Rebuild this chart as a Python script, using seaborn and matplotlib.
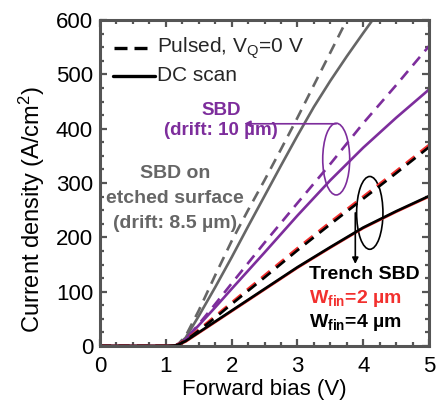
import matplotlib
matplotlib.use("Agg")
import matplotlib.pyplot as plt
from matplotlib.patches import Ellipse
import seaborn as sns
import pandas as pd

# ---- data ----
v_gray_pulsed = [0.0, 1.0, 1.15, 1.2, 1.3, 1.5, 1.75, 2.0, 2.25, 2.5, 2.75, 3.0, 3.25, 3.5, 3.75, 4.0]
j_gray_pulsed = [0, 0, 1, 5, 18, 65, 130, 193, 250, 305, 362, 420, 480, 540, 600, 660]

v_gray_dc = [0.0, 1.0, 1.15, 1.2, 1.3, 1.5, 1.75, 2.0, 2.25, 2.5, 2.75, 3.0, 3.25, 3.5, 3.75, 4.0, 4.25, 4.5]
j_gray_dc = [0, 0, 1, 4, 15, 55, 108, 163, 220, 276, 332, 387, 440, 488, 533, 576, 618, 655]

v_purple = [0.0, 1.0, 1.15, 1.2, 1.3, 1.5, 1.75, 2.0, 2.5, 3.0, 3.5, 4.0, 4.5, 5.0]
j_purple_pulsed = [0, 0, 1, 4, 12, 40, 77, 115, 190, 263, 335, 410, 480, 552]
j_purple_dc = [0, 0, 1, 4, 12, 38, 71, 105, 172, 240, 305, 365, 420, 472]

v_trench = [0.0, 1.0, 1.15, 1.2, 1.3, 1.5, 1.75, 2.0, 2.5, 3.0, 3.5, 4.0, 4.5, 5.0]
j_w2_pulsed = [0, 0, 1, 4, 11, 30, 55, 80, 130, 180, 228, 275, 322, 370]
j_w4_pulsed = [0, 0, 1, 3, 10, 28, 52, 77, 126, 176, 224, 271, 318, 366]
j_w2_dc = [0, 0, 1, 3, 8, 24, 44, 64, 104, 144, 181, 217, 247, 275]
j_w4_dc = [0, 0, 1, 3, 9, 25, 45, 65, 105, 145, 182, 218, 248, 276]

x_ticks = [0, 1, 2, 3, 4, 5]
y_ticks = [0, 100, 200, 300, 400, 500, 600]

GRAY = "#666666"
PURPLE = "#7D2D9C"
RED = "#F2302E"
BLACK = "#000000"

sns.set_theme(style="ticks")
plt.rcParams["font.family"] = ["Liberation Sans", "DejaVu Sans"]
plt.rcParams["mathtext.fontset"] = "custom"
plt.rcParams["mathtext.rm"] = "Liberation Sans"
plt.rcParams["mathtext.it"] = "Liberation Sans:italic"
plt.rcParams["mathtext.bf"] = "Liberation Sans:bold"

fig = plt.figure(figsize=(4.48, 4.04), dpi=100)
ax = fig.add_axes([100 / 448, 58 / 404, 329 / 448, 326 / 404])

LW = 1.9
DASH = (0, (4.2, 2.8))

def draw(x, y, color, ls):
    df = pd.DataFrame({"V": x, "J": y})
    sns.lineplot(data=df, x="V", y="J", ax=ax, color=color, linewidth=LW,
                 linestyle=ls, sort=True, estimator=None, legend=False)

draw(v_gray_pulsed, j_gray_pulsed, GRAY, DASH)
draw(v_gray_dc, j_gray_dc, GRAY, "-")
draw(v_purple, j_purple_pulsed, PURPLE, DASH)
draw(v_purple, j_purple_dc, PURPLE, "-")
draw(v_trench, j_w2_pulsed, RED, DASH)
draw(v_trench, j_w4_pulsed, BLACK, DASH)
draw(v_trench, j_w2_dc, RED, "-")
draw(v_trench, j_w4_dc, BLACK, "-")

ax.set_xlim(0, 5)
ax.set_ylim(0, 600)
ax.set_xticks(x_ticks)
ax.set_yticks(y_ticks)
ax.set_xticklabels([str(t) for t in x_ticks])
ax.set_yticklabels([str(t) for t in y_ticks])
ax.xaxis.set_minor_locator(matplotlib.ticker.MultipleLocator(0.25))
ax.yaxis.set_minor_locator(matplotlib.ticker.MultipleLocator(25))
ax.tick_params(which="both", direction="in", top=True, right=True,
               color="#555555", width=1.6, labelcolor="black")
ax.tick_params(which="major", length=5, labelsize=16)
ax.tick_params(axis="x", which="major", pad=7)
ax.tick_params(axis="y", which="major", pad=5)
ax.tick_params(which="minor", length=3)
for s in ax.spines.values():
    s.set_color("#555555")
    s.set_linewidth(2.2)
    s.set_visible(True)

ax.set_xlabel("Forward bias (V)", fontsize=16, color="black")
ax.set_ylabel("Current density (A/cm$^{2}$)", fontsize=17, color="black")
ax.xaxis.set_label_coords(0.5, -0.1)
ax.yaxis.set_label_coords(-0.16, 0.42)

# legend drawn manually
ax.plot([0.22, 0.72], [548, 548], color=BLACK, lw=2.4, linestyle=(0, (3.9, 2.1)))
ax.plot([0.2, 0.84], [497, 497], color=BLACK, lw=2.4)
ax.text(0.86, 548, r"Pulsed, V$_\mathregular{Q}$=0 V", fontsize=15, va="center", ha="left")
ax.text(0.86, 497, "DC scan", fontsize=15, va="center", ha="left")

# annotations
ax.text(1.84, 434, "SBD", color=PURPLE, fontsize=13.5, fontweight="bold",
        ha="center", va="center")
ax.text(1.84, 397, "(drift: 10 µm)", color=PURPLE, fontsize=13.5, fontweight="bold",
        ha="center", va="center")
ax.text(1.14, 318, "SBD on", color=GRAY, fontsize=14, fontweight="bold",
        ha="center", va="center")
ax.text(1.14, 272, "etched surface", color=GRAY, fontsize=14, fontweight="bold",
        ha="center", va="center")
ax.text(1.14, 226, "(drift: 8.5 µm)", color=GRAY, fontsize=14, fontweight="bold",
        ha="center", va="center")
ax.text(3.17, 132, "Trench SBD", color=BLACK, fontsize=14, fontweight="bold",
        ha="left", va="center")
ax.text(3.17, 88, r"W$_\mathbf{fin}$=2 µm", color=RED, fontsize=14,
        fontweight="bold", ha="left", va="center")
ax.text(3.17, 44, r"W$_\mathbf{fin}$=4 µm", color=BLACK, fontsize=14,
        fontweight="bold", ha="left", va="center")

ax.add_patch(Ellipse((3.59, 344), 0.41, 132, fill=False, edgecolor=PURPLE, lw=1.2))
ax.annotate("", xy=(2.19, 409), xytext=(3.59, 409),
            arrowprops=dict(arrowstyle="-|>", color=PURPLE, lw=1.2,
                            mutation_scale=9, shrinkA=0, shrinkB=0))
ax.add_patch(Ellipse((4.10, 245), 0.40, 134, fill=False, edgecolor=BLACK, lw=1.2))
ax.annotate("", xy=(3.88, 151), xytext=(3.88, 245),
            arrowprops=dict(arrowstyle="-|>", color=BLACK, lw=1.2,
                            mutation_scale=9, shrinkA=0, shrinkB=0))

fig.savefig("out.png", dpi=100)
